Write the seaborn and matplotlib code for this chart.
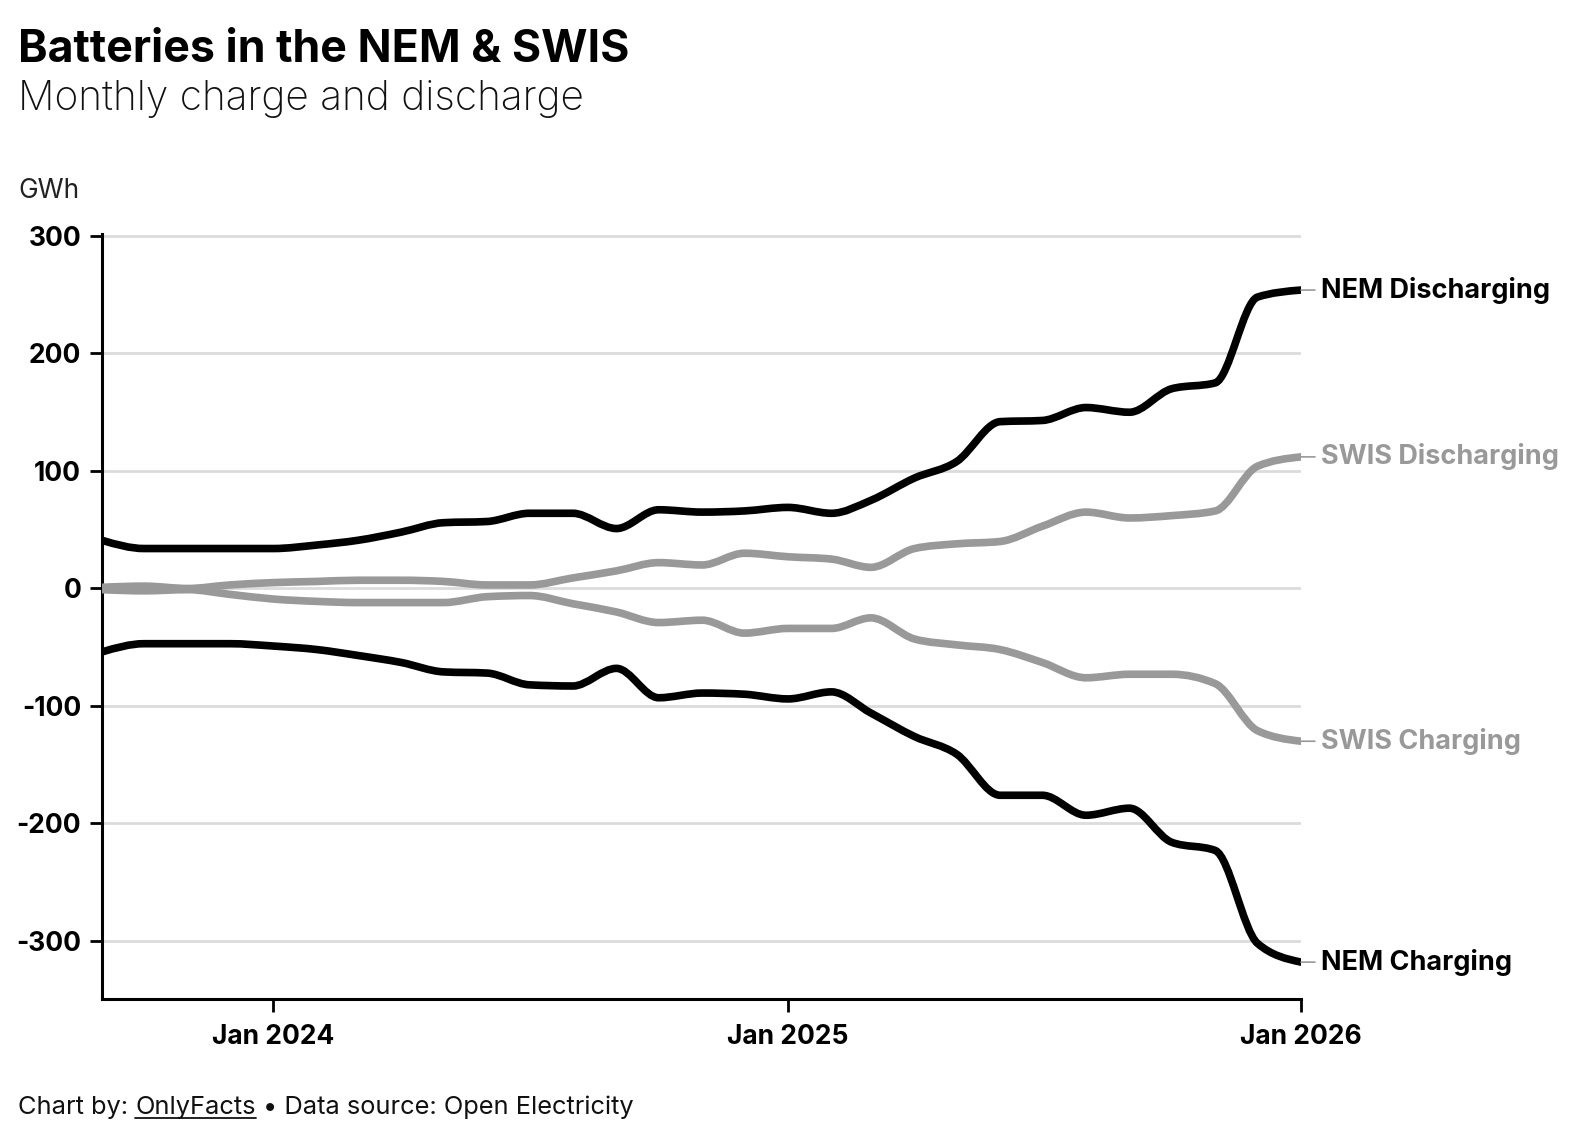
import numpy as np
import pandas as pd
import matplotlib
matplotlib.use("Agg")
import matplotlib.pyplot as plt
from matplotlib.path import Path
from matplotlib.patches import PathPatch
import seaborn as sns

# ---------------- data (GWh per month) ----------------
months = pd.date_range("2023-09-01", "2026-01-01", freq="MS")

nem_discharging = [41, 34, 34, 34, 34, 37, 41, 48, 56, 57, 64, 64, 51, 67, 65, 66,
                   69, 64, 75, 94, 108, 142, 143, 154, 150, 170, 175, 248, 254]
swis_discharging = [1, 2, 0, 3, 5, 6, 7, 7, 6, 3, 3, 9, 15, 22, 20, 30,
                    27, 25, 18, 34, 38, 40, 53, 65, 60, 62, 66, 104, 112]
swis_charging = [-1, -2, -1, -5, -9, -11, -12, -12, -12, -7, -6, -13, -20, -29, -27, -38,
                 -34, -34, -25, -43, -48, -52, -63, -76, -73, -73, -81, -121, -130]
nem_charging = [-54, -47, -47, -47, -49, -52, -57, -63, -71, -72, -82, -83, -68, -93, -89, -90,
                -94, -88, -106, -126, -141, -176, -176, -193, -187, -216, -223, -302, -318]

series_names = ["SWIS Discharging", "SWIS Charging", "NEM Discharging", "NEM Charging"]
series_values = [swis_discharging, swis_charging, nem_discharging, nem_charging]

y_ticks = [-300, -200, -100, 0, 100, 200, 300]
x_tick_dates = ["2024-01-01", "2025-01-01", "2026-01-01"]
x_tick_labels = ["Jan 2024", "Jan 2025", "Jan 2026"]

title = "Batteries in the NEM & SWIS"
subtitle = "Monthly charge and discharge"
unit_label = "GWh"

# ---------------- style ----------------
BLACK = "#000000"
GREY = "#999999"
palette = {"SWIS Discharging": GREY, "SWIS Charging": GREY,
           "NEM Discharging": BLACK, "NEM Charging": BLACK}

sns.set_theme(style="white")
FONT = "Inter"
plt.rcParams["font.family"] = [FONT, "Roboto", "DejaVu Sans"]
plt.rcParams["axes.unicode_minus"] = False

W, H = 1574, 1142
fig = plt.figure(figsize=(W / 100, H / 100), dpi=100)
fig.patch.set_facecolor("white")

def fx(px):
    return px / W

def fy(py):
    return 1 - py / H

ax = fig.add_axes([fx(102), fy(999), fx(1301) - fx(102), fy(234) - fy(999)])

df = pd.concat(
    [pd.DataFrame({"month": months, "value": v, "series": n})
     for n, v in zip(series_names, series_values)],
    ignore_index=True,
)

LW = 5.5
sns.lineplot(data=df, x="month", y="value", hue="series", hue_order=series_names,
             palette=palette, linewidth=LW, legend=False, ax=ax,
             solid_capstyle="round", solid_joinstyle="round", zorder=3)


def monotone_path(x, y):
    """Cubic Bezier path through the points (monotone-x curve, like d3.curveMonotoneX)."""
    x = np.asarray(x, float)
    y = np.asarray(y, float)
    n = len(x)
    h = np.diff(x)
    s = np.diff(y) / h
    t = np.zeros(n)
    for i in range(1, n - 1):
        h0, h1, s0, s1 = h[i - 1], h[i], s[i - 1], s[i]
        p = (s0 * h1 + s1 * h0) / (h0 + h1)
        t[i] = (np.sign(s0) + np.sign(s1)) * min(abs(s0), abs(s1), 0.5 * abs(p))
    t[0] = (3 * s[0] - t[1]) / 2 if n > 2 else s[0]
    t[-1] = (3 * s[-1] - t[-2]) / 2 if n > 2 else s[-1]
    verts = [(x[0], y[0])]
    codes = [Path.MOVETO]
    for i in range(n - 1):
        dx = (x[i + 1] - x[i]) / 3
        verts += [(x[i] + dx, y[i] + dx * t[i]),
                  (x[i + 1] - dx, y[i + 1] - dx * t[i + 1]),
                  (x[i + 1], y[i + 1])]
        codes += [Path.CURVE4] * 3
    return Path(verts, codes)


# turn each seaborn line into a smooth curve through the same data points
for line in list(ax.get_lines()):
    xy = line.get_xydata()
    patch = PathPatch(monotone_path(xy[:, 0], xy[:, 1]), fill=False,
                      edgecolor=line.get_color(), linewidth=LW,
                      capstyle="round", joinstyle="round",
                      zorder=line.get_zorder(), transform=ax.transData)
    ax.add_patch(patch)
    line.remove()

ax.set_xlim(months[0], months[-1])
ax.set_ylim(-349.4, 301.7)

ax.set_yticks(y_ticks)
ax.set_yticklabels([str(t) for t in y_ticks])
ax.set_xticks(pd.to_datetime(x_tick_dates))
ax.set_xticklabels(x_tick_labels)

ax.grid(axis="y", color="#dcdcdc", linewidth=2, zorder=0)
ax.grid(axis="x", visible=False)
ax.set_axisbelow(True)

for s in ["top", "right"]:
    ax.spines[s].set_visible(False)
for s in ["left", "bottom"]:
    ax.spines[s].set_color(BLACK)
    ax.spines[s].set_linewidth(2.2)

ax.tick_params(axis="both", which="major", length=9, width=2, color=BLACK,
               labelcolor=BLACK, labelsize=19, direction="out",
               bottom=True, left=True, top=False, right=False)
ax.tick_params(axis="y", pad=6)
ax.tick_params(axis="x", pad=9)
for lbl in ax.get_xticklabels() + ax.get_yticklabels():
    lbl.set_fontweight("bold")
ax.set_xlabel("")
ax.set_ylabel("")

# ---------------- direct labels ----------------
for name, vals in zip(series_names, series_values):
    col = palette[name]
    ax.annotate(name, xy=(months[-1], vals[-1]), xytext=(20, 0),
                textcoords="offset pixels", va="center", ha="left",
                fontsize=19.5, fontweight="bold", color=col,
                annotation_clip=False,
                arrowprops=dict(arrowstyle="-", color=GREY, lw=1.2,
                                shrinkA=2, shrinkB=0))

# ---------------- titles ----------------
fig.text(fx(18), fy(62), title, fontsize=32.2, fontweight="bold",
         color=BLACK, ha="left", va="baseline")
fig.text(fx(18), fy(110), subtitle, fontsize=29.3, fontweight="light",
         color="#111111", ha="left", va="baseline")
fig.text(fx(18), fy(198), unit_label, fontsize=19, color="#222222",
         ha="left", va="baseline")

# ---------------- footer with underlined credit ----------------
fs = 18.3
fy_base = fy(1114)
t1 = fig.text(fx(18), fy_base, "Chart by:", fontsize=fs, color="#111111",
              ha="left", va="baseline")
fig.canvas.draw()
r = fig.canvas.get_renderer()
b1 = t1.get_window_extent(r)
t2 = fig.text((b1.x1 + 7) / W, fy_base, "OnlyFacts", fontsize=fs, color="#111111",
              ha="left", va="baseline")
fig.canvas.draw()
b2 = t2.get_window_extent(r)
fig.add_artist(plt.Line2D([b2.x0 / W, b2.x1 / W], [fy_base - 4 / H, fy_base - 4 / H],
                          transform=fig.transFigure, color="#111111", lw=1.3))
fig.text((b2.x1 + 7) / W, fy_base, "• Data source: Open Electricity", fontsize=fs,
         color="#111111", ha="left", va="baseline")

fig.savefig("out.png", dpi=100, facecolor="white")
